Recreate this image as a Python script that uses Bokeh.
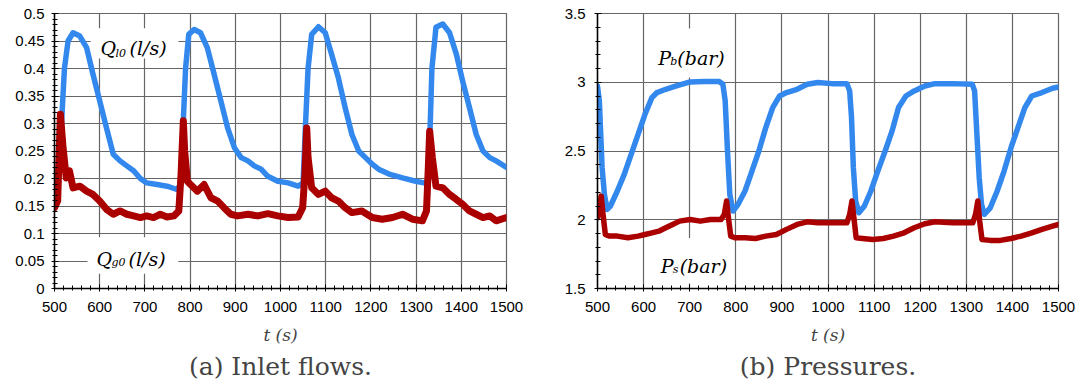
from bokeh.plotting import figure
from bokeh.layouts import row
from bokeh.models import Range1d, SingleIntervalTicker, CustomJSTickFormatter, Label, Title
from bokeh.embed import file_html
from bokeh.resources import INLINE

# ---------------- data ----------------
# (a) inlet flows
ql_t = [500, 511, 517, 522, 530, 541, 556, 571, 585, 600, 615, 630, 645, 660, 675, 690, 704, 727, 749, 771, 779,
        785, 790, 797, 809, 823, 838, 853, 868, 883, 898, 913, 928, 942, 957, 972, 994, 1017, 1039, 1050,
        1055, 1061, 1069, 1084, 1099, 1113, 1128, 1143, 1158, 1173, 1188, 1203, 1217, 1240, 1270, 1299, 1318, 1326,
        1331, 1335, 1344, 1359, 1374, 1389, 1403, 1418, 1433, 1448, 1463, 1477, 1500]
ql_v = [0.171, 0.22, 0.323, 0.40, 0.45, 0.465, 0.459, 0.438, 0.39, 0.341, 0.292, 0.244, 0.232, 0.223, 0.214, 0.20, 0.192, 0.189, 0.186, 0.18, 0.189,
        0.305, 0.40, 0.462, 0.471, 0.465, 0.438, 0.39, 0.341, 0.292, 0.256, 0.238, 0.232, 0.223, 0.217, 0.204, 0.195, 0.192, 0.186, 0.192,
        0.292, 0.40, 0.462, 0.476, 0.465, 0.426, 0.383, 0.329, 0.28, 0.25, 0.238, 0.226, 0.217, 0.208, 0.201, 0.195, 0.192, 0.195,
        0.292, 0.40, 0.475, 0.481, 0.465, 0.426, 0.377, 0.329, 0.28, 0.25, 0.238, 0.232, 0.22]

qg_t = [500, 507, 513, 519, 526, 533, 541, 556, 571, 585, 600, 615, 630, 645, 660, 675, 690, 704, 719, 734, 749, 764, 775,
        780, 785, 788, 794, 801, 816, 831, 846, 861, 875, 890, 905, 928, 950, 972, 994, 1017, 1039, 1049,
        1054, 1058, 1061, 1069, 1084, 1099, 1113, 1128, 1143, 1158, 1180, 1203, 1225, 1248, 1270, 1292, 1314, 1323,
        1327, 1330, 1336, 1344, 1359, 1374, 1389, 1403, 1418, 1433, 1448, 1463, 1477, 1500]
qg_v = [0.147, 0.159, 0.317, 0.256, 0.201, 0.214, 0.183, 0.186, 0.177, 0.171, 0.159, 0.144, 0.135, 0.141, 0.135, 0.132, 0.129, 0.132, 0.129, 0.135, 0.13, 0.132, 0.141,
        0.208, 0.305, 0.25, 0.195, 0.189, 0.177, 0.189, 0.165, 0.159, 0.147, 0.135, 0.132, 0.135, 0.132, 0.136, 0.132, 0.129, 0.13, 0.147,
        0.208, 0.292, 0.238, 0.183, 0.171, 0.177, 0.165, 0.159, 0.147, 0.138, 0.141, 0.129, 0.126, 0.129, 0.135, 0.126, 0.123, 0.141,
        0.22, 0.286, 0.238, 0.186, 0.183, 0.171, 0.162, 0.153, 0.141, 0.135, 0.129, 0.132, 0.123, 0.129]

# (b) pressures
pb_t = [500, 504, 507, 510, 515, 521, 528, 543, 558, 573, 588, 603, 618, 629, 648, 671, 701, 731, 764, 772,
        777, 782, 787, 794, 805, 820, 835, 850, 865, 880, 895, 910, 933, 955, 978, 1008, 1041,
        1047, 1051, 1055, 1060, 1067, 1079, 1093, 1108, 1124, 1139, 1153, 1169, 1187, 1210, 1232, 1270, 1313,
        1318, 1323, 1328, 1333, 1339, 1352, 1367, 1382, 1397, 1412, 1427, 1442, 1464, 1487, 1500]
pb_v = [2.973, 2.864, 2.621, 2.379, 2.184, 2.075, 2.10, 2.209, 2.33, 2.476, 2.621, 2.767, 2.888, 2.925, 2.949, 2.973, 3.002, 3.005, 3.005, 2.985,
        2.864, 2.5, 2.184, 2.063, 2.112, 2.209, 2.354, 2.5, 2.67, 2.816, 2.90, 2.925, 2.949, 2.985, 2.998, 2.99, 2.99,
        2.937, 2.743, 2.379, 2.136, 2.051, 2.10, 2.209, 2.354, 2.5, 2.646, 2.816, 2.90, 2.937, 2.973, 2.99, 2.99, 2.985,
        2.937, 2.621, 2.306, 2.112, 2.039, 2.087, 2.209, 2.354, 2.524, 2.67, 2.816, 2.90, 2.925, 2.956, 2.966]

ps_t = [500, 504, 508, 512, 517, 525, 543, 566, 588, 603, 618, 633, 648, 663, 678, 701, 723, 745, 768,
        775, 780, 784, 789, 798, 820, 843, 865, 888, 910, 933, 955, 978, 1008, 1041,
        1047, 1052, 1057, 1061, 1075, 1097, 1120, 1142, 1165, 1187, 1210, 1232, 1270, 1314,
        1320, 1325, 1329, 1334, 1352, 1374, 1397, 1419, 1442, 1464, 1487, 1500]
ps_v = [2.015, 2.087, 2.172, 2.039, 1.893, 1.881, 1.881, 1.869, 1.881, 1.893, 1.905, 1.917, 1.942, 1.966, 1.99, 2.002, 1.99, 2.002, 2.002,
        2.039, 2.136, 2.015, 1.881, 1.869, 1.869, 1.864, 1.881, 1.893, 1.93, 1.966, 1.985, 1.978, 1.978, 1.978,
        2.039, 2.136, 1.99, 1.869, 1.864, 1.857, 1.864, 1.881, 1.905, 1.942, 1.971, 1.985, 1.978, 1.978,
        2.039, 2.136, 1.99, 1.857, 1.85, 1.85, 1.864, 1.881, 1.905, 1.93, 1.954, 1.966]

x_ticks_interval = 100
captions = ["(a) Inlet flows.", "(b) Pressures."]

BLUE = "#3388ee"
RED = "#aa0000"
GRID = "#666666"
SANS = "Liberation Sans"
SERIF = "DejaVu Serif"

fmt = CustomJSTickFormatter(code="return String(Math.round(tick*100)/100);")


def make_fig(width, left_border, right_border, yr, yint, caption, label_standoff):
    p = figure(width=width, height=386, output_backend="svg", toolbar_location=None,
               x_range=Range1d(500, 1500), y_range=Range1d(*yr),
               min_border_left=left_border, min_border_right=right_border,
               min_border_top=13, min_border_bottom=98, background_fill_color="white",
               border_fill_color="white")
    p.outline_line_color = GRID
    p.outline_line_width = 1.2
    p.xaxis.ticker = SingleIntervalTicker(interval=x_ticks_interval, num_minor_ticks=5)
    p.yaxis.ticker = SingleIntervalTicker(interval=yint, num_minor_ticks=5)
    p.yaxis.formatter = fmt
    for ax in (p.xaxis[0], p.yaxis[0]):
        ax.axis_line_color = "black"
        ax.axis_line_width = 1.5
        ax.major_tick_line_color = "black"
        ax.minor_tick_line_color = "black"
        ax.major_tick_in = 4
        ax.major_tick_out = 3
        ax.minor_tick_in = 3
        ax.minor_tick_out = 2
        ax.major_label_text_font = SANS
        ax.major_label_text_font_size = "15px"
        ax.major_label_text_color = "black"
    p.xaxis.major_label_standoff = 10
    p.yaxis.major_label_standoff = label_standoff
    p.xaxis.axis_label = "t (s)"
    p.xaxis.axis_label_text_font = SERIF
    p.xaxis.axis_label_text_font_style = "italic"
    p.xaxis.axis_label_text_font_size = "17px"
    p.xaxis.axis_label_standoff = 10
    p.grid.grid_line_color = GRID
    p.grid.grid_line_width = 1.2
    p.add_layout(Title(text=caption, align="center", text_font=SERIF,
                       text_font_style="normal", text_font_size="25px", standoff=5), "below")
    return p


def math_label(p, x, y, parts):
    for text, size, dx, dy in parts:
        p.add_layout(Label(x=x, y=y, x_offset=dx, y_offset=dy, text=text,
                           text_font=SERIF, text_font_style="italic",
                           text_font_size=f"{size}px", text_baseline="alphabetic",
                           text_align="left", text_color="black"))


# ---------------- (a) ----------------
p1 = make_fig(545, 54, 39, (0, 0.5), 0.05, captions[0], 7)
p1.quad(left=[580, 573], right=[774, 774], top=[0.473, 0.093], bottom=[0.418, 0.027],
        fill_color="white", line_color=None)
p1.line(ql_t, ql_v, line_color=BLUE, line_width=5.5, line_join="round", line_cap="round")
p1.line(qg_t, qg_v, line_color=RED, line_width=7, line_join="round", line_cap="round")
math_label(p1, 602, 0.4364, [("Q", 19, 0, 0), ("l0", 11, 15, -5), ("(l/s)", 19, 29, 0)])
math_label(p1, 593, 0.0545, [("Q", 19, 0, 0), ("g0", 11, 15, -4), ("(l/s)", 19, 32, 0)])

# ---------------- (b) ----------------
p2 = make_fig(532, 52, 19, (1.5, 3.5), 0.5, captions[1], 9)
p2.quad(left=[611, 611], right=[793, 793], top=[3.391, 1.868], bottom=[3.035, 1.536],
        fill_color="white", line_color=None)
p2.line(pb_t, pb_v, line_color=BLUE, line_width=5.5, line_join="round", line_cap="round")
p2.line(ps_t, ps_v, line_color=RED, line_width=5.5, line_join="round", line_cap="round")
math_label(p2, 632, 3.18, [("P", 19, 0, 0), ("b", 11, 12, -4), ("(bar)", 19, 19, 0)])
math_label(p2, 637, 1.667, [("P", 19, 0, 0), ("s", 11, 12, -4), ("(bar)", 19, 19, 0)])

layout = row(p1, p2)
open("out.html", "w").write(file_html(layout, INLINE))
